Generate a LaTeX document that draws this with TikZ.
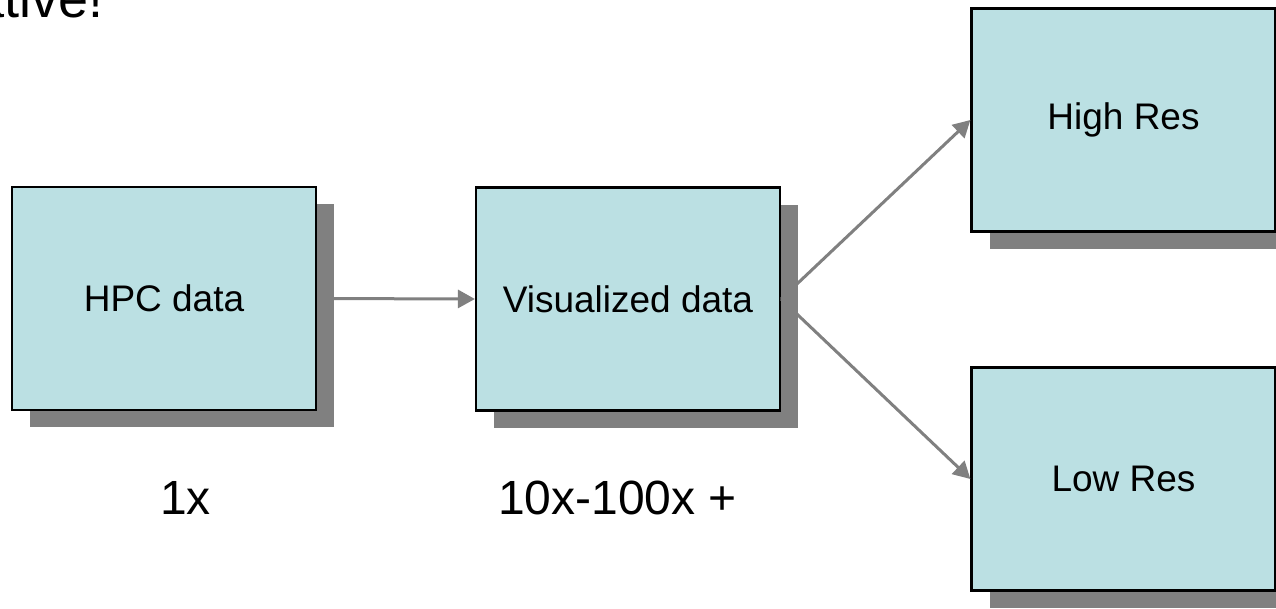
\documentclass[tikz,border=0pt]{standalone}
\usepackage{fontspec}
\setmainfont{Liberation Sans}
\usetikzlibrary{arrows.meta,shadows}
\definecolor{boxfill}{HTML}{BBE0E3}
\definecolor{shadowgray}{HTML}{808080}
\definecolor{arrowgray}{HTML}{808080}
\tikzset{
  databox/.style={draw=black, line width=2.2pt, fill=boxfill, minimum width=304pt,
    minimum height=223pt, inner sep=0pt, font=\fontsize{37}{44}\selectfont,
    drop shadow={shadow xshift=18pt, shadow yshift=-17pt, fill=shadowgray, opacity=1}},
  flow/.style={draw=arrowgray, line width=3pt, -{Triangle[length=17pt,width=18pt]}},
  factor/.style={anchor=base west, inner sep=0pt, font=\fontsize{48}{56}\selectfont}
}
\begin{document}
\begin{tikzpicture}[x=1pt,y=-1pt]
\useasboundingbox (0,0) rectangle (1276,608);
\node[anchor=base east, inner sep=0pt, font=\fontsize{54}{62}\selectfont] (title) at (104,17) {ative!};
\node[databox] (hpc) at (164,298.5) {HPC data};
\node[databox] (vis) at (628,299) {Visualized data};
\node[databox] (high) at (1123.5,120) {High Res};
\node[databox] (low) at (1123.5,479) {Low Res};
\draw[flow] (hpc.east) -- (vis.west);
\draw[flow] (vis.east) -- (high.west);
\draw[flow] (vis.east) -- (low.west);
\node[factor] (f1) at (160,514) {1x};
\node[factor] (f2) at (498,514) {10x-100x +};
\end{tikzpicture}
\end{document}
